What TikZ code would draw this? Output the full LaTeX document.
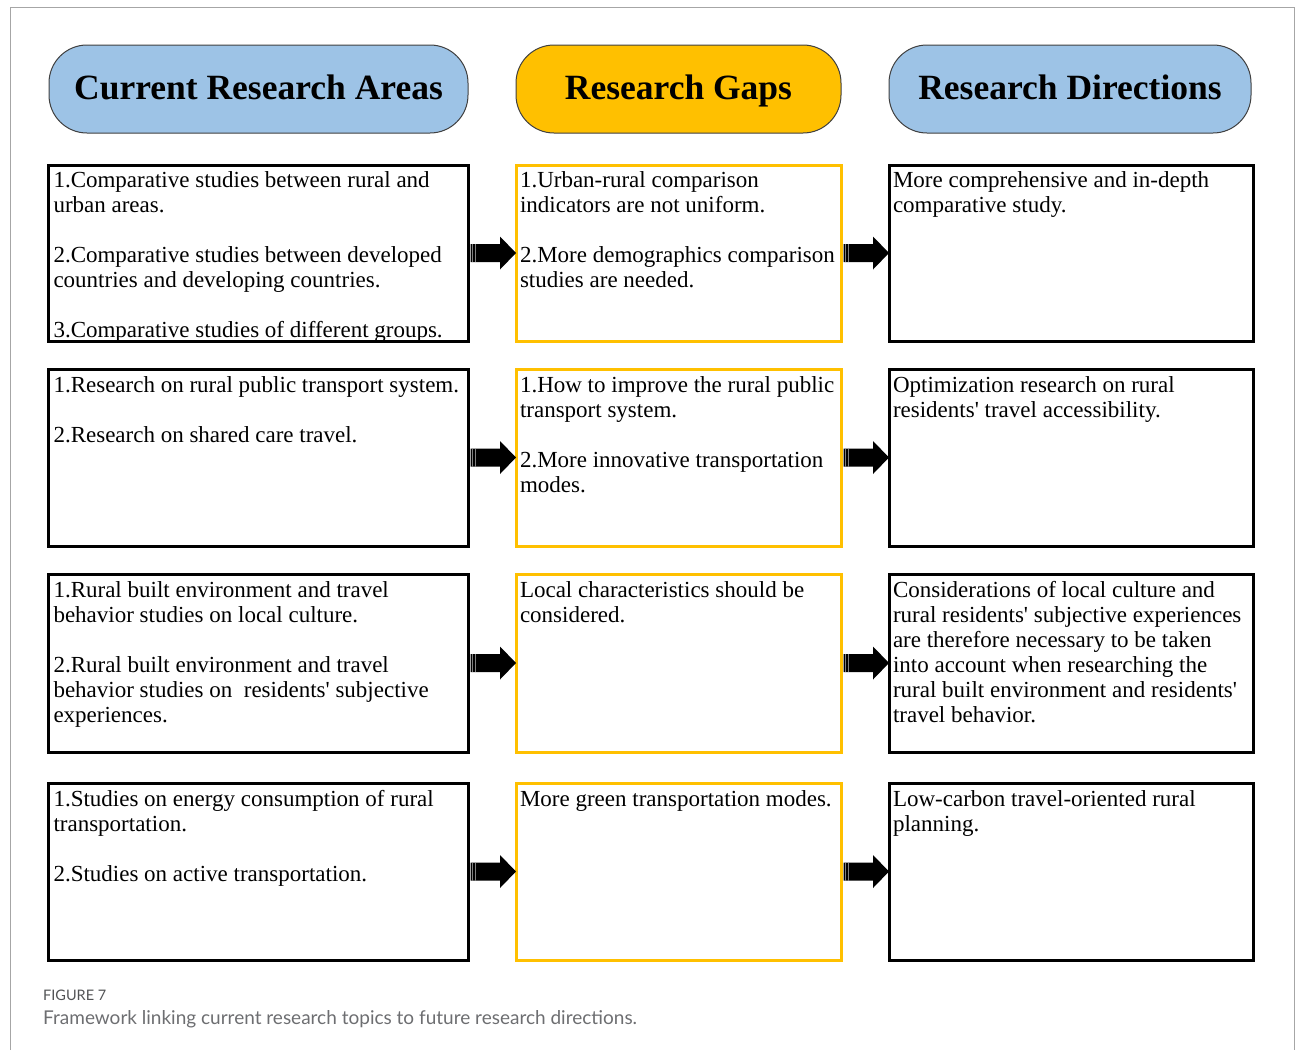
\documentclass[tikz,border=0pt]{standalone}
\usepackage{fontspec}
\setmainfont{Liberation Serif}
\newfontfamily\plainserif{Liberation Serif}
\newfontfamily\capfont{Lato}
\usetikzlibrary{calc}
\definecolor{hblue}{HTML}{9DC3E6}
\definecolor{horange}{HTML}{FFC000}
\definecolor{oline}{HTML}{FFC000}
\definecolor{frame}{HTML}{A6A6A6}
\definecolor{capgray}{HTML}{6D6E71}
\newcommand\blkarrow[2]{%
  \fill[black] ($(#1.east)+(2.5,-9)$) -- ($(#2.west)+(-16,-9)$) -- ($(#2.west)+(-16,-16.5)$)
     -- (#2.west) -- ($(#2.west)+(-16,16.5)$) -- ($(#2.west)+(-16,9)$) -- ($(#1.east)+(2.5,9)$) -- cycle;
  \draw[white!50!black,line width=0.5pt] ($(#1.east)+(4.6,-9)$) -- ($(#1.east)+(4.6,9)$);
  \draw[white!50!black,line width=0.5pt] ($(#1.east)+(7.0,-9)$) -- ($(#1.east)+(7.0,9)$);
}
\tikzset{
  hdr/.style={draw=black!75, line width=1pt, rounded corners=38pt, minimum height=88pt,
     anchor=north west, inner sep=0pt, outer sep=0pt, text height=26pt, text depth=5pt,
     font=\fontsize{35.5pt}{40pt}\selectfont\bfseries},
  bbox/.style={draw=black, line width=3pt, anchor=north west, inner sep=0pt, outer sep=0pt},
  obox/.style={draw=oline, line width=3pt, anchor=north west, inner sep=0pt, outer sep=0pt},
  txt/.style={anchor=base west, inner sep=0pt, outer sep=0pt,
     font=\plainserif\fontsize{23pt}{25pt}\selectfont},
}
\newcommand\tb[1]{\parbox[t]{500pt}{\raggedright #1}}
\begin{document}
\begin{tikzpicture}[x=1pt,y=-1pt]
\useasboundingbox (0,0) rectangle (1295,1050);
% outer frame
\draw[frame, line width=1pt] (10,1050) -- (10,7) -- (1294,7) -- (1294,1050);

% headers
\node[hdr, fill=hblue, minimum width=419pt] (H1) at (49,45) {Current Research Areas};
\node[hdr, fill=horange, minimum width=325pt] (H2) at (516,45) {Research Gaps};
\node[hdr, fill=hblue, minimum width=362pt] (H3) at (889,45) {Research Directions};

% row 1
\node[bbox, minimum width=420pt, minimum height=176pt] (L1) at (48,165) {};
\node[obox, minimum width=325pt, minimum height=176pt] (M1) at (516,165) {};
\node[bbox, minimum width=364pt, minimum height=176pt] (R1) at (889,165) {};
% row 2
\node[bbox, minimum width=420pt, minimum height=177pt] (L2) at (48,369) {};
\node[obox, minimum width=325pt, minimum height=177pt] (M2) at (516,369) {};
\node[bbox, minimum width=364pt, minimum height=177pt] (R2) at (889,369) {};
% row 3
\node[bbox, minimum width=420pt, minimum height=178pt] (L3) at (48,574) {};
\node[obox, minimum width=325pt, minimum height=178pt] (M3) at (516,574) {};
\node[bbox, minimum width=364pt, minimum height=178pt] (R3) at (889,574) {};
% row 4
\node[bbox, minimum width=420pt, minimum height=177pt] (L4) at (48,783) {};
\node[obox, minimum width=325pt, minimum height=177pt] (M4) at (516,783) {};
\node[bbox, minimum width=364pt, minimum height=177pt] (R4) at (889,783) {};

% texts
\node[txt] (L1t) at ($(L1.north west)+(5.5,22.5)$) {\tb{1.Comparative studies between rural and\\ urban areas.\\[25pt] 2.Comparative studies between developed\\ countries and developing countries.\\[25pt] 3.Comparative studies of different groups.}};
\node[txt] (M1t) at ($(M1.north west)+(4,22.5)$) {\tb{1.Urban-rural comparison\\ indicators are not uniform.\\[25pt] 2.More demographics comparison\\ studies are needed.}};
\node[txt] (R1t) at ($(R1.north west)+(4,22.5)$) {\tb{More comprehensive and in-depth\\ comparative study.}};

\node[txt] (L2t) at ($(L2.north west)+(5.5,23)$) {\tb{1.Research on rural public transport system.\\[25pt] 2.Research on shared care travel.}};
\node[txt] (M2t) at ($(M2.north west)+(4,23)$) {\tb{1.How to improve the rural public\\ transport system.\\[25pt] 2.More innovative transportation\\ modes.}};
\node[txt] (R2t) at ($(R2.north west)+(4,23)$) {\tb{Optimization research on rural\\ residents' travel accessibility.}};

\node[txt] (L3t) at ($(L3.north west)+(5.5,23)$) {\tb{1.Rural built environment and travel\\ behavior studies on local culture.\\[25pt] 2.Rural built environment and travel\\ behavior studies on~ residents' subjective\\ experiences.}};
\node[txt] (M3t) at ($(M3.north west)+(4,23)$) {\tb{Local characteristics should be\\ considered.}};
\node[txt] (R3t) at ($(R3.north west)+(4,23)$) {\tb{Considerations of local culture and\\ rural residents' subjective experiences\\ are therefore necessary to be taken\\ into account when researching the\\ rural built environment and residents'\\ travel behavior.}};

\node[txt] (L4t) at ($(L4.north west)+(5.5,23.5)$) {\tb{1.Studies on energy consumption of rural\\ transportation.\\[25pt] 2.Studies on active transportation.}};
\node[txt] (M4t) at ($(M4.north west)+(4,23.5)$) {\tb{More green transportation modes.}};
\node[txt] (R4t) at ($(R4.north west)+(4,23.5)$) {\tb{Low-carbon travel-oriented rural\\ planning.}};

% arrows
\blkarrow{L1}{M1}
\blkarrow{M1}{R1}
\blkarrow{L2}{M2}
\blkarrow{M2}{R2}
\blkarrow{L3}{M3}
\blkarrow{M3}{R3}
\blkarrow{L4}{M4}
\blkarrow{M4}{R4}

% caption
\node[anchor=base west, inner sep=0pt, text=capgray!75!black, font=\capfont\fontsize{14.5pt}{16pt}\selectfont] (fig) at (43,1000) {FIGURE 7};
\node[anchor=base west, inner sep=0pt, text=capgray, font=\capfont\fontsize{19pt}{22pt}\selectfont] (cap) at (43,1024) {Framework linking current research topics to future research directions.};
\end{tikzpicture}
\end{document}
